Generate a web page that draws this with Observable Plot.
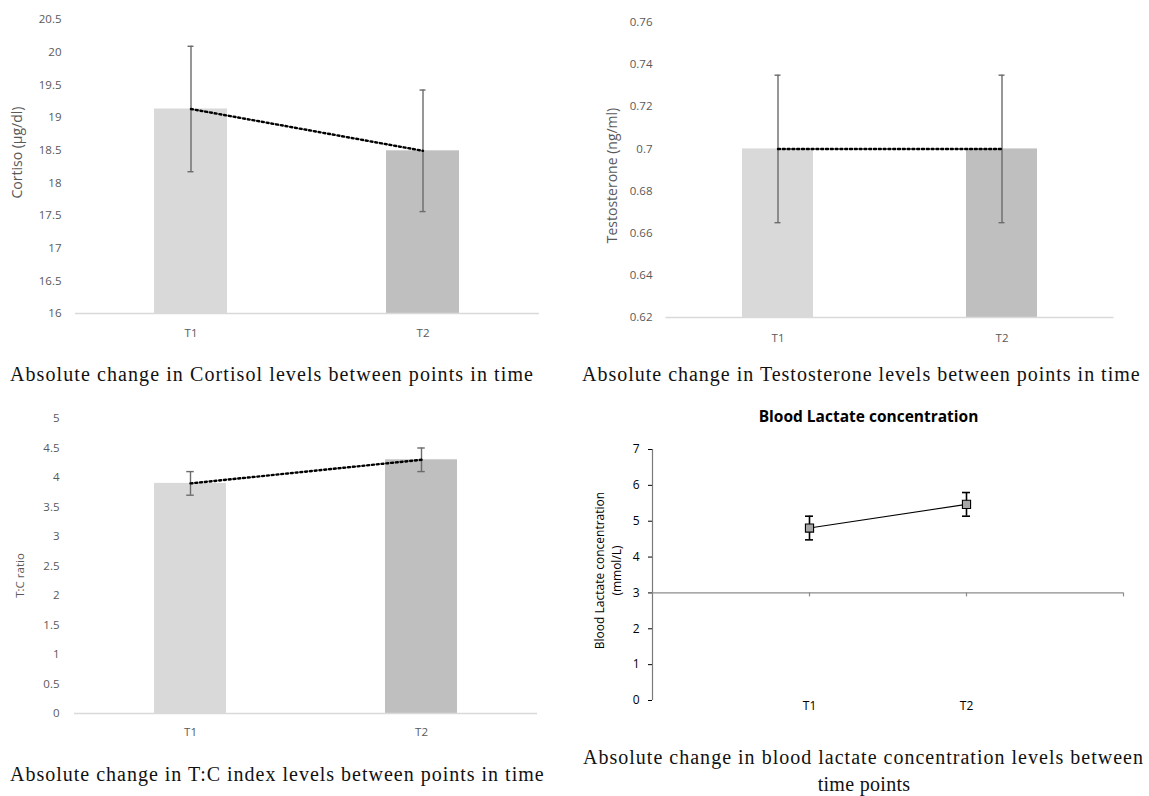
<!DOCTYPE html>
<html><head><meta charset="utf-8">
<script src="https://cdn.jsdelivr.net/npm/d3@7"></script>
<script src="https://cdn.jsdelivr.net/npm/@observablehq/plot@0.6"></script>
<style>
body{margin:0;background:#fff;}
#root{position:relative;width:1149px;height:796px;overflow:hidden;background:#fff;font-family:"Open Sans",sans-serif;}
.panel{position:absolute;}
.panel svg{overflow:visible;}
.cap{position:absolute;font-family:"Liberation Serif",serif;font-size:20px;color:#111;white-space:nowrap;line-height:20px;}
</style></head><body><div id="root"></div>
<script>
// ---------- data ----------
const times = ["T1", "T2"];
const barColors = ["#d9d9d9", "#bfbfbf"];

const cortisolMean = [19.13, 18.49];
const cortisolErr = [0.96, 0.93];
const cortisolTicks = [16, 16.5, 17, 17.5, 18, 18.5, 19, 19.5, 20, 20.5];

const testoMean = [0.70, 0.70];
const testoErr = [0.035, 0.035];
const testoTicks = [0.62, 0.64, 0.66, 0.68, 0.7, 0.72, 0.74, 0.76];

const tcMean = [3.9, 4.3];
const tcErr = [0.2, 0.2];
const tcTicks = [0, 0.5, 1, 1.5, 2, 2.5, 3, 3.5, 4, 4.5, 5];

const lactPos = [1, 2];
const lactXDomain = [0, 3];
const lactXTicks = [1, 2, 3];
const lactMean = [4.81, 5.47];
const lactErr = [0.33, 0.33];
const lactTicks = [0, 1, 2, 3, 4, 5, 6, 7];
const lactCross = 3;

const captions = [
  {text: "Absolute change in Cortisol levels between points in time", left: 10, width: 524, cy: 375},
  {text: "Absolute change in Testosterone levels between points in time", left: 582, width: 559, cy: 375},
  {text: "Absolute change in T:C index levels between points in time", left: 10, width: 535, cy: 775},
  {text: "Absolute change in blood lactate concentration levels between", left: 583, width: 561, cy: 758},
  {text: "time points", center: 864, cy: 785}
];

const root = document.getElementById("root");
function place(node, left, top) {
  const d = document.createElement("div");
  d.className = "panel";
  d.style.left = left + "px";
  d.style.top = top + "px";
  d.appendChild(node);
  root.appendChild(d);
}

function barPanel(o) {
  const data = times.map((t, i) => ({t, v: o.mean[i], lo: o.mean[i] - o.err[i], hi: o.mean[i] + o.err[i], c: barColors[i]}));
  const base = o.ticks[0];
  const capInset = (o.barW - o.capW) / 2;
  return Plot.plot({
    width: o.width, height: o.height,
    marginTop: o.mt, marginBottom: o.mb, marginLeft: o.ml, marginRight: o.mr,
    style: {fontFamily: "'Open Sans', sans-serif", fontSize: "11.5px", color: "#595959", background: "transparent", overflow: "visible"},
    color: {type: "identity"},
    x: {domain: times, paddingInner: o.padIn, paddingOuter: o.padIn / 2, tickSize: 0, tickPadding: o.tpx, label: null},
    y: {domain: [o.ticks[0], o.ticks[o.ticks.length - 1]], ticks: o.ticks, tickFormat: d => String(d), tickSize: 0, tickPadding: o.tpy, label: null},
    marks: [
      Plot.barY(data, {x: "t", y1: base, y2: "v", fill: "c"}),
      Plot.ruleY([base], {stroke: "#d9d9d9", strokeWidth: 1.4}),
      Plot.ruleX(data, {x: "t", y1: "lo", y2: "hi", stroke: "#6b6b6b", strokeWidth: 1.4}),
      Plot.tickY(data, {x: "t", y: "lo", stroke: "#6b6b6b", strokeWidth: 1.4, insetLeft: capInset, insetRight: capInset}),
      Plot.tickY(data, {x: "t", y: "hi", stroke: "#6b6b6b", strokeWidth: 1.4, insetLeft: capInset, insetRight: capInset}),
      Plot.line(data, {x: "t", y: "v", stroke: "#000", strokeWidth: 2.4, strokeDasharray: "2,2.8"}),
      Plot.text([o.yLabel], {text: d => d, frameAnchor: "left", textAnchor: "middle", lineAnchor: "middle", rotate: -90, dx: o.tdx, dy: o.tdy, fontSize: o.tfs, fill: "#595959"})
    ]
  });
}

place(barPanel({mean: cortisolMean, err: cortisolErr, ticks: cortisolTicks, yLabel: "Cortiso (µg/dl)",
  width: 560, height: 345, mt: 19, mb: 32, ml: 75, mr: 21, padIn: 0.685, barW: 73, capW: 6,
  tpx: 15, tpy: 14, tdx: -57.5, tdy: -14, tfs: 14}), 0, 0);

place(barPanel({mean: testoMean, err: testoErr, ticks: testoTicks, yLabel: "Testosterone (ng/ml)",
  width: 589, height: 345, mt: 22, mb: 28, ml: 105.5, mr: 35.5, padIn: 0.683, barW: 71, capW: 6,
  tpx: 16, tpy: 13.5, tdx: -53.5, tdy: 5.5, tfs: 14}), 560, 0);

place(barPanel({mean: tcMean, err: tcErr, ticks: tcTicks, yLabel: "T:C ratio",
  width: 560, height: 355, mt: 28, mb: 32, ml: 74, mr: 23, padIn: 0.687, barW: 72.5, capW: 8,
  tpx: 14.7, tpy: 15, tdx: -54, tdy: 9.5, tfs: 11.5}), 0, 390);

// ---------- lactate panel ----------
const lact = times.map((t, i) => ({t, x: lactPos[i], v: lactMean[i], lo: lactMean[i] - lactErr[i], hi: lactMean[i] + lactErr[i]}));
const lactPlot = Plot.plot({
  width: 579, height: 320, marginTop: 49, marginBottom: 20, marginLeft: 82, marginRight: 26,
  style: {fontFamily: "'Open Sans', sans-serif", fontSize: "12px", color: "#000", background: "transparent", overflow: "visible"},
  x: {domain: lactXDomain, axis: null},
  y: {domain: [lactTicks[0], lactTicks[lactTicks.length - 1]], ticks: lactTicks, tickFormat: d => String(d), tickSize: 4, tickPadding: 9, label: null},
  marks: [
    Plot.ruleX([lactXDomain[0]], {y1: lactTicks[0], y2: lactTicks[lactTicks.length - 1], stroke: "#7a7a7a", strokeWidth: 1.2}),
    Plot.ruleY([lactCross], {x1: lactXDomain[0], x2: lactXDomain[1], stroke: "#8c8c8c", strokeWidth: 1.2}),
    Plot.ruleX(lactXTicks, {y1: lactCross, y2: lactCross, insetBottom: -4, stroke: "#8c8c8c", strokeWidth: 1.2}),
    Plot.line(lact, {x: "x", y: "v", stroke: "#000", strokeWidth: 1.1}),
    Plot.ruleX(lact, {x: "x", y1: "lo", y2: "hi", stroke: "#000", strokeWidth: 1.6}),
    Plot.ruleY(lact, {y: "lo", x1: "x", x2: "x", insetLeft: -4, insetRight: -4, stroke: "#000", strokeWidth: 1.6}),
    Plot.ruleY(lact, {y: "hi", x1: "x", x2: "x", insetLeft: -4, insetRight: -4, stroke: "#000", strokeWidth: 1.6}),
    Plot.dot(lact, {x: "x", y: "v", symbol: "square", r: 4.6, fill: "#a6a6a6", stroke: "#000", strokeWidth: 1.1}),
    Plot.text(lact, {x: "x", y: lactTicks[0], text: "t", dy: 6, fontSize: 12, fill: "#000"}),
    Plot.text(["Blood Lactate concentration"], {text: d => d, frameAnchor: "top", textAnchor: "middle", lineAnchor: "middle", dx: -19.5, dy: -32, fontSize: 15.5, fontWeight: "bold", fill: "#000"}),
    Plot.text(["Blood Lactate concentration\n(mmol/L)"], {text: d => d, frameAnchor: "left", textAnchor: "middle", lineAnchor: "middle", rotate: -90, dx: -45, dy: -4.5, fontSize: 12, lineHeight: 1.4, fill: "#000"})
  ]
});
place(lactPlot, 570, 400);

// ---------- captions ----------
const ctx = document.createElement("canvas").getContext("2d");
ctx.font = "20px 'Liberation Serif'";
for (const c of captions) {
  const s = document.createElement("div");
  s.className = "cap";
  s.textContent = c.text;
  s.style.top = (c.cy - 11) + "px";
  if (c.width) {
    const w = ctx.measureText(c.text).width;
    const ls = (c.width - w) / c.text.length;
    s.style.letterSpacing = ls.toFixed(3) + "px";
    s.style.left = c.left + "px";
  } else {
    const w = ctx.measureText(c.text).width;
    s.style.letterSpacing = "0.3px";
    s.style.left = (c.center - (w + 0.3 * c.text.length) / 2) + "px";
  }
  root.appendChild(s);
}
</script>
</body></html>
